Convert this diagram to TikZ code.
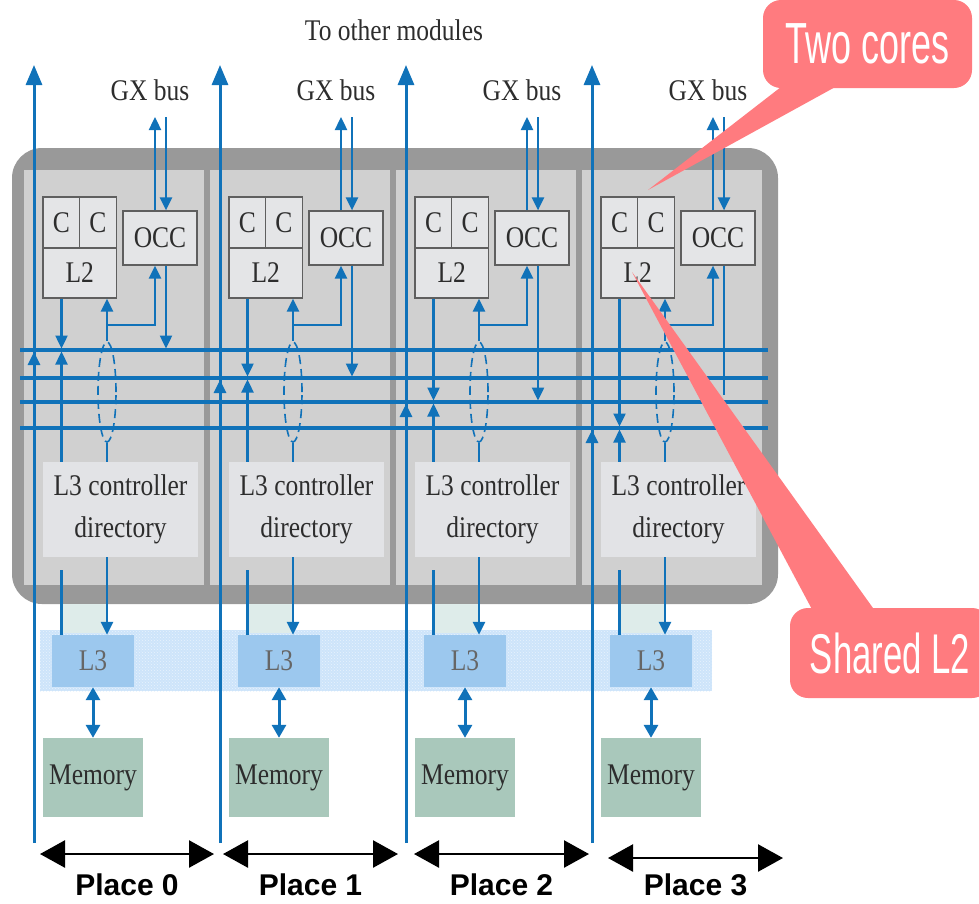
\documentclass[tikz,border=0pt]{standalone}
\usepackage{fontspec}
\setmainfont{Liberation Serif}[FakeStretch=0.85]
\newfontfamily\placefont{Liberation Sans}
\newfontfamily\calloutfont{Liberation Sans}[FakeStretch=0.62]
\usetikzlibrary{arrows.meta,shapes.geometric,patterns}
\definecolor{busblue}{RGB}{16,114,185}
\definecolor{framegray}{RGB}{153,153,153}
\definecolor{panelgray}{RGB}{208,208,208}
\definecolor{boxfill}{RGB}{228,229,231}
\definecolor{boxline}{RGB}{95,95,95}
\definecolor{ctrlfill}{RGB}{226,227,230}
\definecolor{bandblue}{RGB}{205,228,250}
\definecolor{lthreeblue}{RGB}{156,200,238}
\definecolor{memgreen}{RGB}{169,200,187}
\definecolor{shadowgreen}{RGB}{222,236,234}
\definecolor{calloutred}{RGB}{255,123,127}
\definecolor{textgray}{RGB}{45,45,45}

\begin{document}
\begin{tikzpicture}
  [x=1pt,y=-1pt,
   every node/.style={font=\fontsize{30}{42}\selectfont,text=textgray,inner sep=0pt},
   box/.style={rectangle,draw=boxline,line width=1.2pt,fill=boxfill},
   link/.style={draw=busblue,line width=2.4pt},
   bus/.style={draw=busblue,line width=4pt},
   longline/.style={draw=busblue,line width=3pt},
   tip/.style={-{Triangle[length=13pt,width=12pt]}},
   placearrow/.style={draw=black,line width=2.5pt,{Triangle[length=25pt,width=27pt]}-{Triangle[length=25pt,width=27pt]}},
   placelabel/.style={font=\placefont\bfseries\fontsize{30}{30}\selectfont,text=black},
   callout/.style={fill=calloutred,rounded corners=18pt,text=white,font=\calloutfont\fontsize{58}{58}\selectfont}]
  \clip (0,0) rectangle (979,903);

  % chip frame
  \fill[framegray,rounded corners=30pt] (12,148) rectangle (778,604);
  \foreach \i in {0,...,3}
    \fill[panelgray,xshift={186*\i}] (24,170) rectangle (204,585);

  \node (title) at (394,30) {To other modules};

  % ring buses
  \foreach \by in {350,378,402,428}
    \draw[bus] (20,\by) -- (768,\by);

  % L3 band
  \fill[bandblue] (40,630) rectangle (712,691);
  \fill[pattern=crosshatch dots,pattern color=white!55!bandblue] (40,630) rectangle (712,691);

  \foreach \i/\by in {0/350,1/378,2/402,3/428} {
    \begin{scope}[xshift={186*\i}]
      \fill[shadowgreen] (61,604) rectangle (107,633);
      \node[box,minimum width=37,minimum height=51] (ca\i) at (61.5,222.5) {C};
      \node[box,minimum width=37,minimum height=51] (cb\i) at (98,222.5) {C};
      \node[box,minimum width=73.5,minimum height=50] (ltwo\i) at (79.75,273) {L2};
      \node[box,minimum width=74,minimum height=54] (occ\i) at (160,238) {OCC};
      \node (gx\i) at (150,90) {GX bus};
      \node[fill=ctrlfill,minimum width=155,minimum height=95,align=center] (ctrl\i) at (120.5,509.5) {L3 controller\\directory};
      \node[fill=lthreeblue,minimum width=82,minimum height=52,text=black!60] (lthree\i) at (93,661) {L3};
      \node[fill=memgreen,minimum width=100,minimum height=79] (mem\i) at (93,777.5) {Memory};
      \node[draw=busblue,dash pattern=on 9pt off 5pt,ellipse,line width=1.6pt,minimum width=18,minimum height=100] (bund\i) at (107,392) {};
      \coordinate (b\i) at (0,\by);
      \coordinate (e\i) at (0,395);
      \coordinate (j\i) at (107,325);
      \coordinate (gxa\i) at (155,117);
      \coordinate (gxb\i) at (166,117);
      \coordinate (top\i) at (34,65);
      \coordinate (bot\i) at (34,843);

      % GX bus
      \draw[link,tip] (occ\i.north -| gxa\i) -- (gxa\i);
      \draw[link,tip] (gxb\i) -- (occ\i.north -| gxb\i);
      % L2 to bus and controller
      \draw[link,tip,shorten >=1.5pt] (ltwo\i.south -| ca\i) -- (b\i -| ca\i);
      \draw[link,tip,shorten >=1.5pt] (ctrl\i.north -| ca\i) -- (b\i -| ca\i);
      \draw[link] (ctrl\i.south -| ca\i) ++(0,13) -- (lthree\i.north -| ca\i);
      % OCC to bus
      \ifnum\i<3
        \draw[link,tip,shorten >=1.5pt] (occ\i.south -| gxb\i) -- (b\i -| gxb\i);
      \else
        \draw[link] (occ\i.south -| gxb\i) -- (e\i -| gxb\i);
      \fi
      % OCC back to L2, bundle
      \draw[link,tip] (j\i) -| (occ\i.south -| gxa\i);
      \draw[link,tip] (j\i) -- (ltwo\i.south -| j\i);
      \draw[link] (j\i) -- (bund\i.north);
      \draw[link] (bund\i.south) -- (ctrl\i.north -| bund\i);
      \draw[link,tip] (ctrl\i.south -| bund\i) -- (lthree\i.north -| bund\i);
      % L3 to memory
      \draw[link,line width=3pt,{Triangle[length=13pt,width=14pt]}-{Triangle[length=13pt,width=14pt]}] (lthree\i) -- (mem\i);
      % to other modules
      \draw[longline,-{Triangle[length=20pt,width=16pt]}] (bot\i) -- (top\i);
      \draw[longline,tip,shorten >=2pt] (bot\i |- b\i) ++(0,20) -- (bot\i |- b\i);
    \end{scope}
  }

  % places
  \foreach \i/\xa/\xb/\yy in {0/40/214/854,1/223/398/854,2/414/589/854,3/608/783/858} {
    \coordinate (pa\i) at (\xa,\yy);
    \coordinate (pb\i) at (\xb,\yy);
    \draw[placearrow] (pa\i) -- (pb\i);
    \node[placelabel] (place\i) at ({(\xa+\xb)/2},885) {Place \i};
  }

  % callouts
  \fill[calloutred] (790,80) -- (648,190) -- (848,80) -- cycle;
  \node[callout,minimum width=209,minimum height=88] (twocores) at (867.5,44) {Two cores};
  \fill[calloutred] (815,615) -- (632,272) -- (878,615) -- cycle;
  \node[callout,minimum width=200,minimum height=90,font=\calloutfont\fontsize{56}{56}\selectfont] (sharedl2) at (890,653) {Shared L2};
\end{tikzpicture}
\end{document}
